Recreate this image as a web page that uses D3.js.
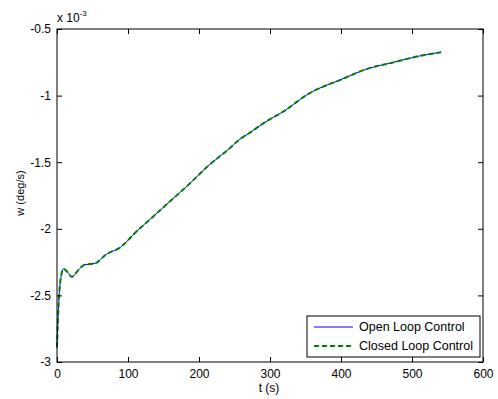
<!DOCTYPE html>
<html><head><meta charset="utf-8">
<script src="https://cdn.jsdelivr.net/npm/d3@7"></script>
<style>body{margin:0;background:#fff}svg{display:block}text{font-family:"Liberation Sans",Arial,sans-serif;font-size:11px;fill:#000}</style>
</head><body><svg id="c" width="498" height="399"></svg>
<script>
const tValues = [0, 2, 4, 6, 9, 14, 21, 30, 39, 53, 70, 89, 112, 136, 160, 183, 215, 240, 258, 271, 290, 319, 356, 399, 440, 469, 511, 541];
const openLoop = [-2.89, -2.6, -2.43, -2.35, -2.30, -2.32, -2.36, -2.31, -2.27, -2.26, -2.19, -2.14, -2.02, -1.905, -1.79, -1.68, -1.518, -1.41, -1.326, -1.281, -1.21, -1.119, -0.981, -0.882, -0.794, -0.757, -0.702, -0.674];
const closedLoop = [-2.89, -2.6, -2.43, -2.35, -2.30, -2.32, -2.36, -2.31, -2.27, -2.26, -2.19, -2.14, -2.02, -1.905, -1.79, -1.68, -1.518, -1.41, -1.326, -1.281, -1.21, -1.119, -0.981, -0.882, -0.794, -0.757, -0.702, -0.674];
const xTicks = [0, 100, 200, 300, 400, 500, 600];
const yTicks = [-3, -2.5, -2, -1.5, -1, -0.5];
const seriesNames = ["Open Loop Control", "Closed Loop Control"];

const svg = d3.select("#c");
const L = 57, R = 483, T = 29, B = 362;
const x = d3.scaleLinear().domain([0, 600]).range([L, R]);
const y = d3.scaleLinear().domain([-3, -0.5]).range([B, T]);

svg.append("rect").attr("x", 0).attr("y", 0).attr("width", 498).attr("height", 399).attr("fill", "#fff");

const line = d3.line().x(d => x(d[0])).y(d => y(d[1])).curve(d3.curveMonotoneX);
const d1 = tValues.map((t, i) => [t, openLoop[i]]);
const d2 = tValues.map((t, i) => [t, closedLoop[i]]);
svg.append("path").datum(d1).attr("d", line).attr("fill", "none").attr("stroke", "#0000ff").attr("stroke-width", 1);
svg.append("path").datum(d2).attr("d", line).attr("fill", "none").attr("stroke", "#008000").attr("stroke-width", 2).attr("stroke-dasharray", "5,3");

// axes
const tl = 5;
svg.append("g").attr("transform", `translate(0,${B})`).call(d3.axisBottom(x).tickValues(xTicks).tickSize(-tl).tickPadding(7.5).tickFormat(d3.format("d")));
svg.append("g").attr("transform", `translate(0,${T})`).call(d3.axisTop(x).tickValues(xTicks).tickSize(-tl).tickFormat(""));
svg.append("g").attr("transform", `translate(${L},0)`).call(d3.axisLeft(y).tickValues(yTicks).tickSize(-tl).tickPadding(6).tickFormat(d => String(d)));
svg.append("g").attr("transform", `translate(${R},0)`).call(d3.axisRight(y).tickValues(yTicks).tickSize(-tl).tickFormat(""));
svg.selectAll(".domain").remove();
svg.selectAll(".tick line").attr("stroke", "#000");
svg.selectAll(".tick text").style("font-size", "12px").style("font-family", "'Liberation Sans',Arial,sans-serif").attr("fill", "#000");
svg.append("rect").attr("x", L).attr("y", T).attr("width", R - L).attr("height", B - T).attr("fill", "none").attr("stroke", "#000").attr("stroke-width", 1);

// labels
svg.append("text").attr("x", 269).attr("y", 392).attr("text-anchor", "middle").style("font-size", "12px").text("t (s)");
svg.append("text").attr("transform", `translate(24,193) rotate(-90)`).attr("text-anchor", "middle").text("w (deg/s)");
const ex = svg.append("text").attr("x", 57).attr("y", 22).style("font-size", "12px");
ex.append("tspan").text("x 10");
ex.append("tspan").attr("dy", -6).style("font-size", "8px").text("-3");

// legend
const lg = svg.append("g");
lg.append("rect").attr("x", 307).attr("y", 316).attr("width", 173).attr("height", 41).attr("fill", "#fff").attr("stroke", "#000").attr("stroke-width", 1);
const styles = [{c: "#0000ff", w: 1, d: null}, {c: "#008000", w: 2, d: "5,3"}];
seriesNames.forEach((n, i) => {
  const yy = 327 + i * 19;
  lg.append("line").attr("x1", 314).attr("x2", 353).attr("y1", yy).attr("y2", yy).attr("stroke", styles[i].c).attr("stroke-width", styles[i].w).attr("stroke-dasharray", styles[i].d);
  lg.append("text").attr("x", 359).attr("y", yy + 4).style("font-size", "12.5px").text(n);
});
</script></body></html>
